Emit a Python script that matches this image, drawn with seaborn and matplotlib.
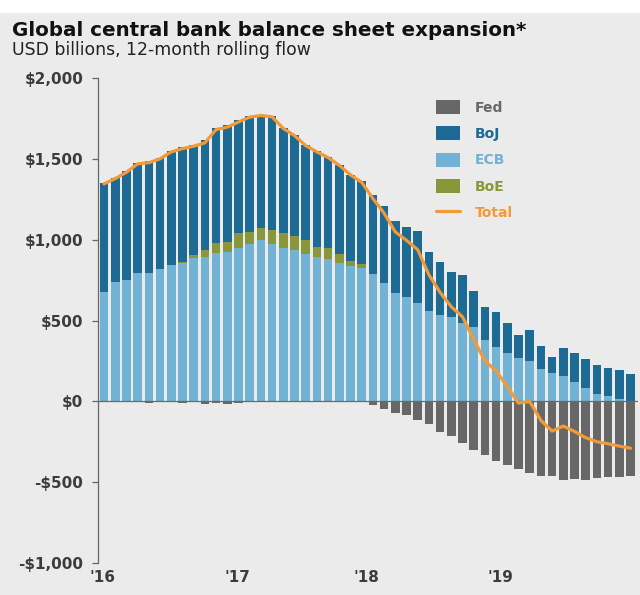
import numpy as np
import pandas as pd
import matplotlib
matplotlib.use("Agg")
import matplotlib.pyplot as plt
import seaborn as sns
from matplotlib.patches import Patch, Rectangle
from matplotlib.lines import Line2D

# ---- data (USD billions, 12-month rolling flow), monthly Jan 2016 .. Dec 2019 ----
months = list(range(48))
fed = [-5, -3, -5, -5, -8, -5, -3, -10, -5, -15, -10, -15,
       -10, -5, -5, -3, -3, -5, -5, -3, -3, -3, 0, -5,
       -22, -45, -70, -85, -118, -143, -190, -217, -258, -300, -335, -366,
       -395, -420, -445, -459, -459, -484, -482, -485, -477, -471, -469, -462]
ecb = [678, 740, 750, 796, 792, 816, 843, 855, 885, 895, 919, 926,
       947, 971, 998, 973, 947, 936, 911, 895, 878, 858, 837, 823,
       785, 730, 672, 647, 610, 560, 533, 522, 486, 460, 382, 337,
       300, 271, 250, 203, 176, 155, 120, 85, 48, 31, 17, 5]
boe = [0, 0, 0, 0, 0, 0, 0, 8, 20, 40, 58, 62,
       93, 79, 72, 87, 93, 87, 87, 62, 69, 53, 31, 24,
       0, 0, 0, 0, 0, 0, 0, 0, 0, 0, 0, 0,
       0, 0, 0, 0, 0, 0, 0, 0, 0, 0, 0, 0]
boj = [672, 641, 672, 678, 692, 689, 703, 710, 678, 679, 714, 723,
       698, 713, 703, 703, 651, 626, 589, 589, 564, 552, 533, 513,
       492, 479, 446, 434, 446, 366, 331, 280, 295, 224, 203, 217,
       186, 138, 194, 138, 99, 176, 176, 175, 179, 178, 175, 167]
total = [1345, 1378, 1417, 1469, 1476, 1500, 1543, 1563, 1578, 1599, 1681, 1696,
         1728, 1758, 1768, 1760, 1688, 1644, 1582, 1543, 1508, 1460, 1401, 1355,
         1255, 1164, 1048, 996, 938, 783, 674, 585, 523, 384, 250, 188,
         91, -11, -1, -118, -184, -153, -186, -225, -250, -262, -277, -290]
year_labels = ["'16", "'17", "'18", "'19"]
year_pos = [-0.1, 11.9, 23.4, 35.4]
yticks = [-1000, -500, 0, 500, 1000, 1500, 2000]
ytick_labels = ["-$1,000", "-$500", "$0", "$500", "$1,000", "$1,500", "$2,000"]
series_names = ["Fed", "BoJ", "ECB", "BoE", "Total"]

df = pd.DataFrame({"m": months, "Fed": fed, "ECB": ecb, "BoE": boe,
                   "BoJ": boj, "Total": total})
df["ecb_boe"] = df["ECB"] + df["BoE"]

C_FED = "#676767"
C_BOJ = "#1d6a95"
C_ECB = "#72b2d4"
C_BOE = "#8a963a"
C_TOT = "#f39a36"
BG = "#ebebeb"

sns.set_theme(style="white")
plt.rcParams["font.family"] = ["DejaVu Sans"]

fig = plt.figure(figsize=(6.4, 5.95), dpi=100, facecolor=BG)
fig.patches.append(Rectangle((0, 1 - 13 / 595), 1, 13 / 595, transform=fig.transFigure,
                             facecolor="white", edgecolor="none", zorder=-1))
ax = fig.add_axes([98 / 640, 32 / 595, 540 / 640, 485 / 595])
ax.set_facecolor(BG)

bw = 0.76
kw = dict(native_scale=True, errorbar=None, saturation=1, width=bw, linewidth=0, ax=ax)
sns.barplot(data=df, x="m", y="ECB", color=C_ECB, **kw)
sns.barplot(data=df, x="m", y="BoE", bottom=df["ECB"], color=C_BOE, **kw)
sns.barplot(data=df, x="m", y="BoJ", bottom=df["ecb_boe"], color=C_BOJ, **kw)
sns.barplot(data=df, x="m", y="Fed", color=C_FED, **kw)
ax.axhline(0, color="#6a6a6a", lw=0.9, zorder=3)
sns.lineplot(data=df, x="m", y="Total", color=C_TOT, lw=2.3, ax=ax, zorder=4)

ax.set_xlim(-0.54, 47.67)
ax.set_ylim(-1000, 2000)
ax.set_yticks(yticks)
ax.set_yticklabels(ytick_labels, fontsize=11, fontweight="bold", color="#3c3c3c")
ax.set_xticks(year_pos)
ax.set_xticklabels(year_labels, fontsize=11, fontweight="bold", color="#3c3c3c")
ax.tick_params(axis="x", length=0, pad=5)
ax.tick_params(axis="y", length=4.5, width=0.9, color="#666666", pad=6, left=True)
ax.set_xlabel("")
ax.set_ylabel("")
for s in ["top", "right", "bottom"]:
    ax.spines[s].set_visible(False)
ax.spines["left"].set_color("#666666")
ax.spines["left"].set_linewidth(0.9)
ax.spines["left"].set_bounds(-1000, 2000)

handles = [Patch(facecolor=C_FED, edgecolor="none"),
           Patch(facecolor=C_BOJ, edgecolor="none"),
           Patch(facecolor=C_ECB, edgecolor="none"),
           Patch(facecolor=C_BOE, edgecolor="none"),
           Line2D([0], [0], color=C_TOT, lw=2.3)]
leg = ax.legend(handles, series_names, loc="upper left",
                bbox_to_anchor=(436 / 640, 1 - 100 / 595), bbox_transform=fig.transFigure,
                frameon=False, handlelength=1.7, handleheight=1.15, labelspacing=0.85,
                handletextpad=1.1, borderpad=0, borderaxespad=0,
                prop={"size": 10, "weight": "bold"},
                labelcolor=[C_FED, C_BOJ, C_ECB, C_BOE, C_TOT])

fig.text(12 / 640, 1 - 36 / 595, "Global central bank balance sheet expansion*",
         fontsize=14.3, fontweight="bold", color="#111111", va="baseline", ha="left")
fig.text(12 / 640, 1 - 55 / 595, "USD billions, 12-month rolling flow",
         fontsize=12.4, color="#222222", va="baseline", ha="left")

fig.savefig("out.png", dpi=100, facecolor=BG)
